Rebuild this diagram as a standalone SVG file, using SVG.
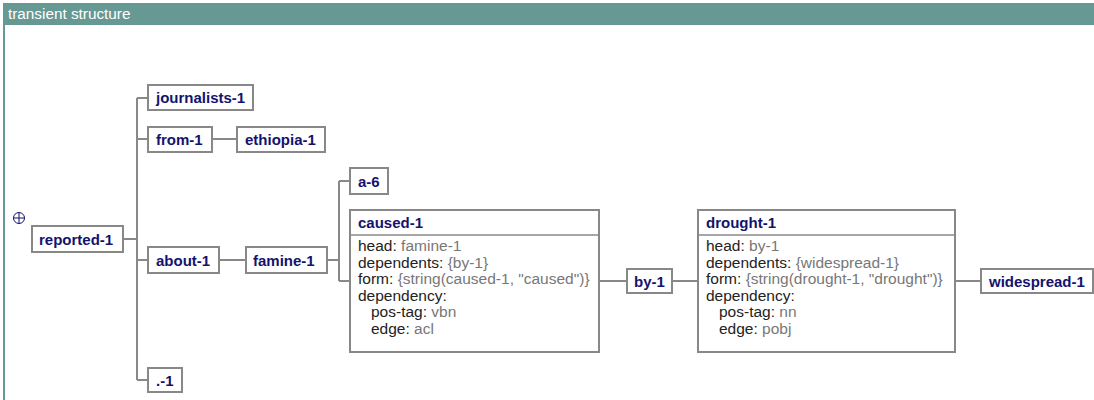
<svg xmlns="http://www.w3.org/2000/svg" width="1094" height="400" viewBox="0 0 1094 400">
<style>
.box{fill:#fff;stroke:#888;stroke-width:2}
.lbl{font-family:"Liberation Sans",Arial,sans-serif;font-size:15px;font-weight:bold;fill:#13136e}
.k{font-family:"Liberation Sans",Arial,sans-serif;font-size:15.5px;fill:#222}
.v{fill:#777}
.con{fill:none;stroke:#888;stroke-width:2}
.sep{stroke:#888;stroke-width:1.5}
</style>
<rect x="0" y="0" width="1094" height="400" fill="#fff"/>
<rect x="3" y="3" width="1091" height="22" fill="#669994"/>
<rect x="3" y="25" width="2" height="375" fill="#669994"/>
<text x="8" y="19" font-family="'Liberation Sans',Arial,sans-serif" font-size="15.3" fill="#fff">transient structure</text>
<g id="expand" stroke="#13136e" stroke-width="1" fill="none">
<circle cx="19" cy="218" r="5.5"/>
<line x1="13.5" y1="218" x2="24.5" y2="218"/>
<line x1="19" y1="212.5" x2="19" y2="223.5"/>
</g>
<g id="connectors" class="con">
<path d="M123 239H137M137 98V380M137 98H148M137 139H148M137 260H148M137 380H148"/>
<path d="M212 139H237"/>
<path d="M219 260H246"/>
<path d="M327 260H339M339 181V281M339 181H350M339 281H350"/>
<path d="M599 281H627M672 281H698M955 281H981"/>
</g>
<g id="reported-1"><rect class="box" x="32" y="226" width="91" height="26"/><text class="lbl" x="39" y="245">reported-1</text></g>
<g id="journalists-1"><rect class="box" x="148" y="85" width="105" height="25"/><text class="lbl" x="156" y="103">journalists-1</text></g>
<g id="from-1"><rect class="box" x="148" y="127" width="64" height="25"/><text class="lbl" x="156" y="145">from-1</text></g>
<g id="ethiopia-1"><rect class="box" x="237" y="127" width="88" height="25"/><text class="lbl" x="245" y="145">ethiopia-1</text></g>
<g id="about-1"><rect class="box" x="148" y="247" width="71" height="26"/><text class="lbl" x="156" y="266">about-1</text></g>
<g id="famine-1"><rect class="box" x="246" y="247" width="81" height="26"/><text class="lbl" x="253" y="266">famine-1</text></g>
<g id="a-6"><rect class="box" x="350" y="168" width="38" height="26"/><text class="lbl" x="358" y="187">a-6</text></g>
<g id="caused-1">
<rect class="box" x="350" y="210" width="249" height="142"/>
<line class="sep" x1="350" y1="235" x2="599" y2="235"/>
<text class="lbl" x="358" y="228">caused-1</text>
<text class="k" x="358" y="251">head: <tspan class="v">famine-1</tspan></text>
<text class="k" x="358" y="267.5">dependents: <tspan class="v">{by-1}</tspan></text>
<text class="k" x="358" y="284">form: <tspan class="v">{string(caused-1, "caused")}</tspan></text>
<text class="k" x="358" y="300.5">dependency:</text>
<text class="k" x="371" y="317">pos-tag: <tspan class="v">vbn</tspan></text>
<text class="k" x="371" y="333.5">edge: <tspan class="v">acl</tspan></text>
</g>
<g id="by-1"><rect class="box" x="627" y="269" width="45" height="24"/><text class="lbl" x="634" y="287">by-1</text></g>
<g id="drought-1">
<rect class="box" x="698" y="210" width="257" height="142"/>
<line class="sep" x1="698" y1="235" x2="955" y2="235"/>
<text class="lbl" x="706" y="228">drought-1</text>
<text class="k" x="706" y="251">head: <tspan class="v">by-1</tspan></text>
<text class="k" x="706" y="267.5">dependents: <tspan class="v">{widespread-1}</tspan></text>
<text class="k" x="706" y="284">form: <tspan class="v">{string(drought-1, "drought")}</tspan></text>
<text class="k" x="706" y="300.5">dependency:</text>
<text class="k" x="719" y="317">pos-tag: <tspan class="v">nn</tspan></text>
<text class="k" x="719" y="333.5">edge: <tspan class="v">pobj</tspan></text>
</g>
<g id="widespread-1"><rect class="box" x="981" y="269" width="112" height="24"/><text class="lbl" x="989" y="287">widespread-1</text></g>
<g id="dot-1"><rect class="box" x="148" y="368" width="34" height="24"/><text class="lbl" x="156" y="386">.-1</text></g>
</svg>
